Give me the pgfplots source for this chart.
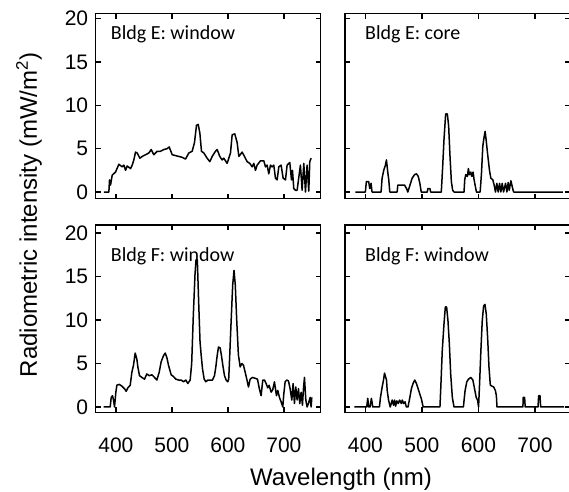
\documentclass[border=0pt]{standalone}
\usepackage{pgfplots}
\pgfplotsset{compat=1.18}
\usepackage{fontspec}
\setmainfont{Liberation Sans}
\newfontfamily\calfont{Carlito}
\begin{document}
\begin{tikzpicture}
\useasboundingbox (0pt,0pt) rectangle (569pt,491pt);
\pgfplotsset{
  panel/.style={
    scale only axis, anchor=south west,
    xmin=364, xtick={400,500,600,700}, ytick={0,5,10,15,20},
    tick align=inside, major tick length=5pt,
    axis line style={line width=1.5pt}, every tick/.style={line width=1.3pt, black},
    tick label style={font=\fontsize{21}{25}\selectfont},
    /pgf/number format/assume math mode=true,
    xticklabel style={yshift=-22pt},
    yticklabel style={xshift=-4pt},
    every axis plot post/.append style={black, mark=none, line width=1.5pt, line join=round},
  },
  toppanel/.style={width=225pt, height=185pt, ymin=-0.75, ymax=20.59, xticklabels={}},
  botpanel/.style={width=225pt, height=187.3pt, ymin=-0.61, ymax=20.92},
}
% Top-left: Bldg E window
\begin{axis}[panel, toppanel, at={(95.7pt,292.5pt)}, xmax=765.8]
\addplot coordinates {
(378.6,0)(387.5,0)(388.7,1.4)(390.5,0.8)(393.5,1.95)(399.4,2.3)(405.4,3.2)(411.3,2.9)(414.3,3.1)(417.3,2.5)(420.2,3.0)(426.2,2.7)(429.2,3.1)(432.1,3.7)(435.1,4.6)(438.1,4.5)(442.8,3.9)(447.0,4.1)(453.0,4.3)(458.9,4.5)(463.1,4.9)(467.8,4.3)(473.8,4.7)(479.7,4.7)(485.7,4.9)(491.6,5.0)(495.2,5.2)(500.6,4.3)(506.5,4.2)(512.5,4.1)(518.4,4.0)(524.4,3.8)(530.3,4.5)(536.3,4.7)(540.4,5.7)(544.0,7.7)(547.0,7.8)(550.0,6.8)(552.9,4.7)(557.1,4.5)(563.0,3.9)(567.8,3.5)(572.0,4.1)(577.9,4.7)(580.9,4.9)(585.6,4.1)(589.8,3.7)(592.8,3.9)(598.7,3.3)(604.7,4.5)(607.7,6.6)(612.4,6.7)(616.6,5.7)(619.6,4.1)(625.5,4.6)(629.7,4.1)(634.4,3.5)(639.2,3.3)(643.4,2.9)(646.3,3.3)(649.3,2.5)(652.3,3.1)(658.2,3.6)(664.2,3.6)(667.2,2.9)(670.1,3.1)(673.1,2.1)(676.1,3.1)(679.1,2.9)(682.0,3.1)(685.0,1.6)(688.0,1.4)(691.0,2.9)(695.1,3.1)(698.7,1.6)(702.9,1.4)(705.8,3.1)(710.6,3.4)(713.6,1.4)(715.4,2.5)(717.7,0.4)(720.7,0.2)(723.7,0.2)(726.7,1.7)(729.6,3.1)(732.6,0.2)(735.6,3.3)(738.6,0)(741.5,3.1)(744.5,0.1)(746.3,3.5)(748.7,3.9)
};
\end{axis}
% Top-right: Bldg E core
\begin{axis}[panel, toppanel, at={(345pt,292.5pt)}, xmax=761.9, yticklabels={}]
\addplot coordinates {
(382.2,0)(400,0)(401.8,1.2)(405.9,1.2)(407.7,0.4)(410.1,1.0)(411.8,0)(427.8,0)(429.6,1.6)(432.5,2.5)(435.5,3.1)(437.3,3.7)(439.6,2.3)(441.4,1.4)(443.2,0)(456.2,0)(457.4,0.8)(469.2,0.8)(472.8,0.4)(475.1,0)(479.9,1.0)(482.8,1.6)(487.0,2.0)(490.5,2.1)(493.5,1.8)(496.4,1.0)(498.8,0)(509.5,0)(510.6,0.4)(514.2,0.4)(515.4,0)(534.3,0)(536.7,2.9)(539.1,6.1)(542.0,9.0)(545.0,9.0)(547.3,7.6)(549.7,4.1)(552.1,1.2)(554.4,0.2)(556.8,0)(574.5,0)(575.7,1.4)(577.5,2.0)(580.5,1.8)(582.2,2.7)(584.0,2.0)(586.4,2.3)(588.2,1.8)(590.5,2.3)(592.3,1.4)(594.1,0.8)(596.4,0)(603.0,0)(605.3,2.1)(607.7,5.3)(610.1,6.4)(611.8,7.0)(613.6,6.0)(616.0,4.5)(619.5,2.5)(621.9,1.6)(625.4,1.4)(627.8,0.8)(630.1,0)(632.5,1.0)(634.9,0)(637.3,1.0)(639.6,0)(642.0,1.0)(644.4,0)(647.9,1.0)(650.3,0)(652.6,1.1)(654.4,0.2)(657.4,1.3)(659.8,0.6)(662.1,0)(749.1,0)
};
\end{axis}
% Bottom-left: Bldg F window
\begin{axis}[panel, botpanel, at={(95.7pt,78.7pt)}, xmax=765.8]
\addplot coordinates {
(378.0,0)(389.9,0)(391.7,1.1)(394.0,1.3)(395.8,0.8)(397.6,0)(400.0,1.7)(401.8,2.5)(406.0,2.6)(410.7,2.4)(415.5,2.1)(418.4,1.8)(421.4,2.2)(425.6,2.5)(428.6,4.0)(431.5,4.8)(434.5,6.2)(437.5,5.5)(439.3,4.6)(442.2,3.6)(446.4,3.4)(451.2,3.2)(455.3,3.8)(459.5,3.6)(464.3,3.7)(469.0,3.4)(473.2,3.1)(477.4,4.0)(480.9,5.2)(485.1,5.9)(488.1,6.2)(491.0,5.7)(494.0,4.8)(498.8,3.7)(502.9,3.5)(507.1,3.2)(511.9,3.1)(516.6,3.1)(520.8,2.9)(525.0,3.1)(528.5,2.7)(532.7,3.1)(535.4,5.0)(538.3,10.5)(541.3,15.2)(543.1,16.9)(545.5,16.9)(547.9,12.0)(550.3,7.5)(552.3,6.0)(554.7,4.4)(557.7,3.2)(560.7,2.9)(564.2,3.1)(568.4,3.1)(572.6,3.1)(576.1,3.6)(578.5,4.6)(580.9,5.9)(583.3,6.9)(586.2,6.8)(588.6,5.9)(591.0,4.8)(594.0,3.6)(596.9,3.1)(599.9,2.9)(601.5,3.2)(603.0,5.4)(605.6,9.5)(608.6,14.0)(611.0,15.7)(613.3,14.0)(615.8,10.0)(618.8,6.0)(622.0,4.6)(624.9,5.0)(627.9,4.8)(630.9,4.0)(633.8,3.2)(636.8,2.3)(639.8,3.2)(644.0,3.4)(648.7,3.3)(652.9,3.2)(655.9,2.2)(659.4,1.3)(662.4,3.1)(665.4,3.1)(668.3,2.7)(671.3,2.2)(673.7,2.5)(677.3,1.7)(680.2,2.0)(683.2,2.9)(686.8,1.3)(689.2,1.9)(692.1,1.1)(695.1,0.6)(698.1,0)(699.9,1.5)(702.3,2.9)(705.2,3.1)(708.2,3.0)(711.2,2.1)(714.2,0.8)(716.5,2.7)(718.9,0.4)(721.3,2.3)(723.7,0.8)(726.1,2.1)(728.4,0.4)(730.8,1.7)(733.2,0.2)(735.0,2.1)(736.8,3.4)(739.2,0.8)(741.5,0)(743.9,0.4)(746.9,1.1)(748.7,0)(749.9,1.1)
};
\end{axis}
% Bottom-right: Bldg F window
\begin{axis}[panel, botpanel, at={(345pt,78.7pt)}, xmax=761.9, yticklabels={}]
\addplot coordinates {
(380.4,0)(402.4,0)(404.2,1.0)(405.9,0)(408.3,0)(410.7,1.0)(413.1,0)(424.9,0)(426.7,1.1)(429.7,2.3)(432.1,3.1)(433.9,3.9)(435.6,3.5)(437.4,3.1)(438.6,1.9)(441.0,0.8)(444.0,0)(447.5,0.8)(449.9,0.2)(451.7,0.8)(453.5,0.1)(455.8,0.7)(458.2,0.4)(460.6,0.8)(463.6,0.4)(465.3,0.8)(467.7,0.4)(470.1,0.6)(472.5,0)(475.4,0)(478.4,1.0)(481.4,2.1)(484.3,2.7)(487.3,3.1)(490.3,2.7)(493.3,2.1)(496.2,1.5)(499.2,0.9)(502.2,0)(531.9,0)(533.7,2.7)(536.0,6.5)(539.0,9.5)(541.4,11.5)(543.7,11.5)(546.1,9.9)(548.5,7.3)(550.9,3.8)(553.8,1.1)(556.8,0)(573.4,0)(574.6,0.8)(576.4,1.9)(579.4,2.9)(582.4,3.2)(586.5,3.4)(590.1,3.1)(593.1,2.1)(596.0,1.1)(598.4,0.8)(600.2,0)(602.0,2.7)(604.3,6.5)(606.7,9.9)(609.1,11.6)(611.5,11.8)(613.8,10.7)(616.2,8.0)(618.6,4.6)(621.0,2.5)(623.9,2.4)(626.9,2.3)(629.9,1.9)(631.7,1.3)(632.8,0)(678.6,0)(679.2,1.1)(681.6,1.1)(682.7,0)(705.3,0)(706.5,1.3)(708.8,1.3)(710.0,0)(751.6,0)
};
\end{axis}
\node[anchor=base west, inner sep=0pt] at (110.7pt,451.7pt) {\calfont\fontsize{20}{24}\selectfont Bldg E: window};
\node[anchor=base west, inner sep=0pt] at (365pt,451.7pt) {\calfont\fontsize{20}{24}\selectfont Bldg E: core};
\node[anchor=base west, inner sep=0pt] at (110.7pt,229.3pt) {\calfont\fontsize{20}{24}\selectfont Bldg F: window};
\node[anchor=base west, inner sep=0pt] at (365pt,229.3pt) {\calfont\fontsize{20}{24}\selectfont Bldg F: window};
\node[anchor=base, inner sep=0pt] at (341pt,6pt) {\fontsize{24}{28}\selectfont Wavelength (nm)};
\node[rotate=90, inner sep=0pt] at (29pt,276pt) {\fontsize{24}{28}\selectfont Radiometric intensity (mW/m\textsuperscript{2})};
\end{tikzpicture}
\end{document}
